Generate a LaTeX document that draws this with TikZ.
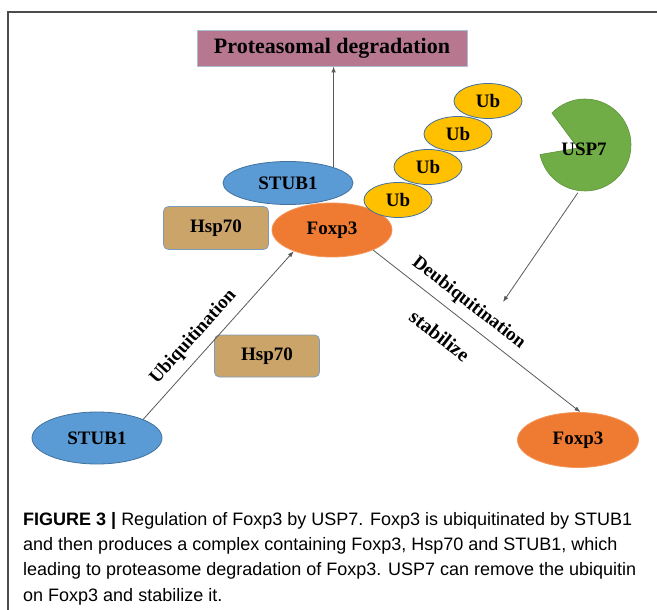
\documentclass[tikz,border=0pt]{standalone}
\usepackage{fontspec}
\setmainfont{Liberation Serif}
\newfontfamily\capfont{Liberation Sans}
\usetikzlibrary{shapes.geometric,arrows.meta}
\definecolor{stubBlue}{HTML}{5B9BD5}
\definecolor{lineBlue}{HTML}{41719C}
\definecolor{foxOrange}{HTML}{EF7A32}
\definecolor{hspTan}{HTML}{CBA46A}
\definecolor{ubGold}{HTML}{FFC000}
\definecolor{uspGreen}{HTML}{70AD47}
\definecolor{protMauve}{HTML}{B7778F}
\definecolor{edgeGray}{HTML}{595959}
\begin{document}
\begin{tikzpicture}
        [x=1pt, y=-1pt, >={Latex[length=6pt,width=4.5pt]},
        lbl/.style={font=\fontsize{19}{19}\selectfont\bfseries, inner sep=0pt},
        ellBlue/.style={ellipse, draw=lineBlue, fill=stubBlue, line width=0.8pt, minimum width=130pt, lbl},
        ellOrange/.style={ellipse, draw=foxOrange!80!white, fill=foxOrange, line width=0.8pt, minimum width=121pt, minimum height=54pt, lbl},
        ellGold/.style={ellipse, draw=lineBlue, fill=ubGold, line width=0.8pt, minimum width=68pt, minimum height=35pt, lbl},
        boxTan/.style={rectangle, rounded corners=5pt, draw=lineBlue!70, fill=hspTan, line width=0.8pt, minimum width=105pt, minimum height=43pt, lbl},
        edge/.style={draw=edgeGray, line width=0.8pt, ->}]
        \useasboundingbox (0,0) rectangle (657,610);
        \draw[line width=1.5pt, black!70] (8,610) -- (8,12) -- (657,12);

        \node[rectangle, draw=lineBlue!45, fill=protMauve, line width=0.8pt, minimum width=270pt, minimum height=36pt, lbl, font=\fontsize{22}{22}\selectfont\bfseries] (prot) at (332,48) {Proteasomal degradation};
        \node[ellBlue, minimum height=43pt] (stubT) at (288,183) {STUB1};
        \node[boxTan] (hspT) at (216,228) {Hsp70};
        \node[ellOrange, minimum width=120pt] (foxT) at (332,230) {Foxp3};
        \node[ellGold] (ub4) at (488,101) {Ub};
        \node[ellGold] (ub3) at (458,134) {Ub};
        \node[ellGold] (ub2) at (428,167) {Ub};
        \node[ellGold] (ub1) at (398,200) {Ub};

        % USP7 with its cut-out mouth
        \filldraw[fill=uspGreen, draw=uspGreen!85!black, line width=0.6pt] (585,145) ++(224:46) arc[start angle=224, end angle=528, radius=46] -- (578,148) -- cycle;
        \node[lbl, circle, minimum size=88pt] (usp) at (584,149) {USP7};
        \coordinate (deub) at (503,302);

        \node[ellBlue, minimum height=52pt] (stubB) at (97,438) {STUB1};
        \node[boxTan, minimum height=42pt] (hspB) at (267,356) {Hsp70};
        \node[ellOrange, minimum height=55pt] (foxB) at (578,440) {Foxp3};

        \draw[edge] (stubT.19) -- (stubT.19 |- prot.south);
        \draw[edge] (stubB.22) -- (foxT.209) node[lbl, pos=0.42, sloped, above=8.5pt] (ubiq) {Ubiquitination};
        \draw[edge] (foxT.-26) -- (foxB.85) node[lbl, pos=0.41, sloped, above=8pt] (deubiq) {Deubiquitination}
                node[lbl, pos=0.40, sloped, below=19pt, font=\fontsize{20}{20}\selectfont\bfseries] (stab) {stabilize};
        \draw[edge] (usp.-98) -- (deub);

        % caption, last baseline given
        \node[anchor=base west, align=left, inner sep=0pt, font=\capfont\fontsize{18}{25.3}\selectfont] (cap) at (23,601)
        {\textbf{FIGURE 3 |} Regulation of Foxp3 by USP7. Foxp3 is ubiquitinated by STUB1\\
        and then produces a complex containing Foxp3, Hsp70 and STUB1, which\\
        leading to proteasome degradation of Foxp3. USP7 can remove the ubiquitin\\
        on Foxp3 and stabilize it.};
    \end{tikzpicture}
\end{document}
